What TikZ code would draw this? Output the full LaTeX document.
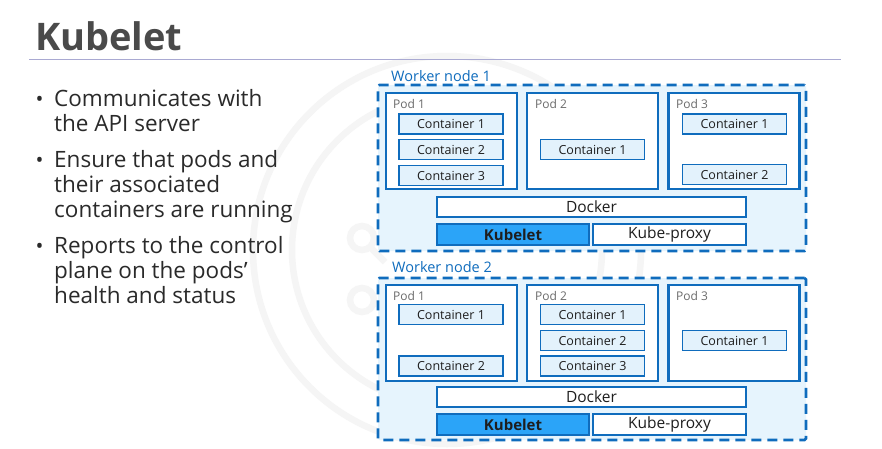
\documentclass[tikz,border=0pt]{standalone}
\usepackage{fontspec}
\setmainfont{Open Sans}
\definecolor{wblue}{HTML}{0F6CBD}
\definecolor{wfill}{HTML}{E6F4FD}
\definecolor{cfill}{HTML}{E3F2FC}
\definecolor{kblue}{HTML}{2BA4F8}
\definecolor{txt}{HTML}{1E1E1E}
\definecolor{bodytxt}{HTML}{2A2A2A}
\definecolor{titletxt}{HTML}{4A4A4A}
\definecolor{podtxt}{HTML}{6B6B6B}
\definecolor{rulec}{HTML}{A9A9D2}
\definecolor{wmark}{HTML}{F5F5F5}
\newcommand\bultext[1]{\parbox[t]{300pt}{\raggedright\fontsize{22.5}{25}\selectfont #1}}
\begin{document}
\begin{tikzpicture}[x=1pt,y=-1pt,
  wn/.style={draw=wblue, line width=2.6pt, dash pattern=on 10pt off 6pt, fill=wfill, rounded corners=1.5pt, inner sep=0pt},
  pod/.style={draw=wblue, line width=2.2pt, fill=white, inner sep=0pt, minimum width=131pt, minimum height=96pt},
  cont/.style={draw=wblue, line width=1.8pt, fill=cfill, inner sep=0pt, minimum width=104pt, minimum height=20pt, text=txt, font=\fontsize{12.5}{14}\selectfont},
  bar/.style={draw=wblue, line width=1.8pt, fill=white, inner sep=0pt, minimum height=20pt, text=txt, font=\fontsize{15.5}{17}\selectfont},
  kub/.style={bar, fill=kblue, font=\fontsize{15}{17}\selectfont\bfseries},
  podlbl/.style={anchor=west, inner sep=0pt, text=podtxt, font=\fontsize{12}{14}\selectfont},
  wnlbl/.style={anchor=west, inner sep=0pt, text=wblue, font=\fontsize{14.5}{16}\selectfont},
  bul/.style={anchor=base west, inner sep=0pt, text=bodytxt},
  dot/.style={anchor=base west, inner sep=0pt, text=bodytxt, font=\fontsize{21}{25}\selectfont},
  wm/.style={draw=wmark, line width=6.5pt}
]
\useasboundingbox (0,0) rectangle (882,448);
\fill[white] (0,0) rectangle (882,448);
% watermark
\draw[wm] (447,250) circle (194pt);
\draw[wm] (447,250) circle (155pt);
\draw[wm] (362,238) circle (12pt);
\draw[wm] (362,300) circle (12pt);
\draw[wm] (370,247) -- (385,262);
% title
\node[anchor=base west, inner sep=0pt, text=titletxt, font=\fontsize{38}{40}\selectfont\bfseries] (title) at (35,50) {Kubelet};
\coordinate (rl) at (29,59.5);
\coordinate (rr) at (841,59.5);
\draw[rulec, line width=0.9pt] (rl) -- (rr);
% bullets
\node[dot] (d1) at (35.5,106) {•};
\node[bul] (b1) at (54,106) {\bultext{Communicates with\\the API server}};
\node[dot] (d2) at (35.5,167) {•};
\node[bul] (b2) at (54,167) {\bultext{Ensure that pods and\\their associated\\containers are running}};
\node[dot] (d3) at (35.5,253) {•};
\node[bul] (b3) at (54,253) {\bultext{Reports to the control\\plane on the pods’\\health and status}};
% worker node 1
\node[wn, minimum width=428pt, minimum height=166pt] (wn1) at (592,168) {};
\node[wnlbl] (wn1l) at (391,76) {Worker node 1};
\node[pod] (w1p1) at (451.5,141) {};
\node[pod] (w1p2) at (592.5,141) {};
\node[pod] (w1p3) at (734,141) {};
\node[podlbl] (w1p1l) at (393,104) {Pod 1};
\node[podlbl] (w1p2l) at (535,104) {Pod 2};
\node[podlbl] (w1p3l) at (676,104) {Pod 3};
\node[cont] (w1c11) at (451,124) {Container 1};
\node[cont] (w1c12) at (451,149.5) {Container 2};
\node[cont] (w1c13) at (451,175.5) {Container 3};
\node[cont] (w1c21) at (592.5,149.5) {Container 1};
\node[cont] (w1c31) at (734.5,124) {Container 1};
\node[cont] (w1c32) at (734.5,174.5) {Container 2};
\node[bar, minimum width=309pt] (w1d) at (591.5,207) {Docker};
\node[kub, minimum width=152pt, minimum height=21pt] (w1k) at (513,234.5) {Kubelet};
\node[bar, minimum width=153pt, minimum height=21pt] (w1kp) at (669.5,234.5) {Kube-proxy};
% worker node 2
\node[wn, minimum width=428pt, minimum height=162pt] (wn2) at (592,359) {};
\node[wnlbl] (wn2l) at (392,267) {Worker node 2};
\node[pod] (w2p1) at (451.5,333) {};
\node[pod] (w2p2) at (592.5,333) {};
\node[pod] (w2p3) at (734,333) {};
\node[podlbl] (w2p1l) at (393,296) {Pod 1};
\node[podlbl] (w2p2l) at (535,296) {Pod 2};
\node[podlbl] (w2p3l) at (676,296) {Pod 3};
\node[cont] (w2c11) at (451,314.5) {Container 1};
\node[cont] (w2c12) at (451,366) {Container 2};
\node[cont] (w2c21) at (592.5,314.5) {Container 1};
\node[cont] (w2c22) at (592.5,340.5) {Container 2};
\node[cont] (w2c23) at (592.5,366) {Container 3};
\node[cont] (w2c31) at (734.5,340.5) {Container 1};
\node[bar, minimum width=309pt] (w2d) at (591.5,397) {Docker};
\node[kub, minimum width=152pt, minimum height=21pt] (w2k) at (513,424.5) {Kubelet};
\node[bar, minimum width=153pt, minimum height=21pt] (w2kp) at (669.5,424.5) {Kube-proxy};
\end{tikzpicture}
\end{document}
